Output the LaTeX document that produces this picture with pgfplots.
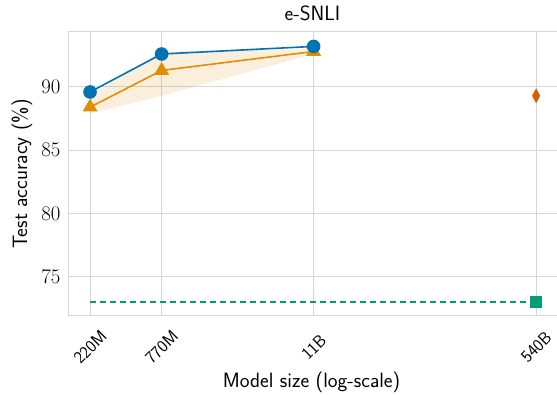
\documentclass[border=0pt]{standalone}
\usepackage{pgfplots}
\pgfplotsset{compat=1.18}
\definecolor{cbblue}{HTML}{0173B2}
\definecolor{cborange}{HTML}{DE8F05}
\definecolor{cbgreen}{HTML}{029E73}
\definecolor{cbred}{HTML}{D55E00}
\definecolor{gridgray}{HTML}{D6D6D6}
\begin{document}
\begin{tikzpicture}
\begin{axis}[name=ax, scale only axis, width=492pt, height=284pt,
  xmode=log, xmin=1.496e8, xmax=8.2e11, ymin=71.9, ymax=94.34,
  xtick={2.2e8,7.7e8,1.1e10,5.4e11}, xticklabels={220M,770M,11B,540B},
  xminorticks=false,
  ytick={75,80,85,90},
  grid=major, major grid style={gridgray, line width=0.9pt},
  axis line style={gridgray, line width=1pt},
  tick style={draw=none},
  yticklabel style={font=\huge\sffamily, xshift=-4pt},
  xticklabel style={font=\LARGE\sffamily, anchor=center, yshift=-31pt, rotate=45},
  label style={font=\huge\sffamily},
  xlabel={Model size (log-scale)},
  ylabel={Test accuracy (\%)},
  xlabel style={at={(axis description cs:0.495,-0.232)}, anchor=center},
  ylabel style={at={(axis description cs:-0.0935,0.5)}, anchor=center},
  title={e-SNLI},
  title style={font=\huge\sffamily, at={(axis description cs:0.497,1.046)}, anchor=center},
  clip=false,
]
\addplot[draw=none, fill=cborange, fill opacity=0.14] coordinates {
  (2.2e8,89.3) (7.7e8,92.8) (1.1e10,93.0) (1.1e10,92.6) (7.7e8,89.3) (2.2e8,87.9)} -- cycle;
\addplot[cbgreen, line width=1.3pt, dash pattern=on 6pt off 4pt] coordinates {(2.2e8,73.0) (5.4e11,73.0)};
\addplot[cborange, line width=1.6pt, mark=triangle*, mark size=7pt, mark options={solid}] coordinates {
  (2.2e8,88.4) (7.7e8,91.3) (1.1e10,92.8)};
\addplot[cbblue, line width=1.6pt, mark=*, mark size=6pt] coordinates {
  (2.2e8,89.6) (7.7e8,92.6) (1.1e10,93.2)};
\addplot[only marks, cbred, mark=diamond*, mark size=7pt, mark options={xscale=0.72}] coordinates {(5.4e11,89.3)};
\addplot[only marks, cbgreen, mark=square*, mark size=5.5pt] coordinates {(5.4e11,73.0)};
\end{axis}
\pgfresetboundingbox
\path[use as bounding box] ([shift={(-68pt,-79pt)}]ax.south west) rectangle ([shift={(489pt,32pt)}]ax.north west);
\end{tikzpicture}
\end{document}
